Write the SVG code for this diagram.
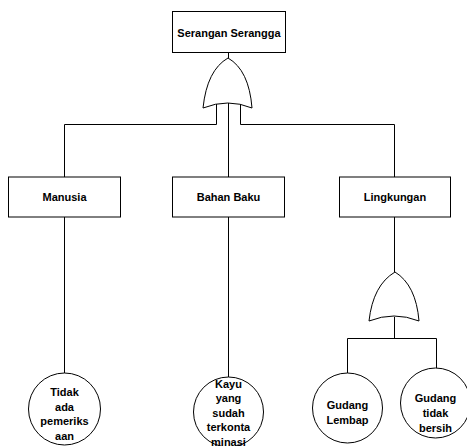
<svg xmlns="http://www.w3.org/2000/svg" width="467" height="446" viewBox="0 0 467 446">
  <style>
    .box { fill: #ffffff; stroke: #000000; stroke-width: 1; }
    .gate { fill: #ffffff; stroke: #000000; stroke-width: 1; }
    .wire { fill: none; stroke: #000000; stroke-width: 1; }
    .lbl { font-family: "Liberation Sans", Arial, sans-serif; font-weight: bold; font-size: 11px; fill: #000000; text-anchor: middle; }
  </style>
  <rect width="467" height="446" fill="#ffffff"/>

  <!-- connectors -->
  <g id="connectors" class="wire">
    <path d="M228.5,53 V58"/>
    <path d="M216.5,104 V124.5 H64.5 V177"/>
    <path d="M228.5,103 V177"/>
    <path d="M240.5,104 V124.5 H394.5 V177"/>
    <path d="M64.5,217 V373"/>
    <path d="M228.5,217 V377"/>
    <path d="M394.5,217 V272"/>
    <path d="M394.5,317 V338.5"/>
    <path d="M347.5,338.5 H436.5"/>
    <path d="M347.5,338.5 V373"/>
    <path d="M436.5,338.5 V368"/>
  </g>

  <!-- OR gates -->
  <g id="gate-top">
    <path class="gate" d="M228,58 Q207,70 203,108 Q228,98 252,108 Q249,70 228,58 Z"/>
  </g>
  <g id="gate-lingkungan">
    <path class="gate" d="M395,272 Q373,285 369,321 Q394,311 419,321 Q416,285 395,272 Z"/>
  </g>

  <!-- events -->
  <g id="serangan-serangga">
    <rect class="box" x="172.5" y="11.5" width="113" height="41"/>
    <text class="lbl" x="229" y="37">Serangan Serangga</text>
  </g>
  <g id="manusia">
    <rect class="box" x="8.5" y="177" width="112" height="40"/>
    <text class="lbl" x="64.5" y="201">Manusia</text>
  </g>
  <g id="bahan-baku">
    <rect class="box" x="172.5" y="177" width="112" height="40"/>
    <text class="lbl" x="228.5" y="201">Bahan Baku</text>
  </g>
  <g id="lingkungan">
    <rect class="box" x="339.5" y="177" width="111" height="40"/>
    <text class="lbl" x="395" y="201">Lingkungan</text>
  </g>

  <!-- basic events -->
  <g id="tidak-ada-pemeriksaan">
    <circle class="box" cx="64.5" cy="409" r="36"/>
    <text class="lbl" x="64.5" y="396">Tidak</text>
    <text class="lbl" x="64.5" y="410.5">ada</text>
    <text class="lbl" x="64.5" y="425">pemeriks</text>
    <text class="lbl" x="64.5" y="439.5">aan</text>
  </g>
  <g id="kayu-terkontaminasi">
    <circle class="box" cx="228.5" cy="412" r="35"/>
    <text class="lbl" x="228.5" y="387.5">Kayu</text>
    <text class="lbl" x="228.5" y="402">yang</text>
    <text class="lbl" x="228.5" y="416.5">sudah</text>
    <text class="lbl" x="228.5" y="431">terkonta</text>
    <text class="lbl" x="228.5" y="445.5">minasi</text>
  </g>
  <g id="gudang-lembap">
    <circle class="box" cx="347.5" cy="408" r="35"/>
    <text class="lbl" x="347.5" y="409">Gudang</text>
    <text class="lbl" x="347.5" y="423.5">Lembap</text>
  </g>
  <g id="gudang-tidak-bersih">
    <circle class="box" cx="435.5" cy="403" r="35"/>
    <text class="lbl" x="435.5" y="402">Gudang</text>
    <text class="lbl" x="435.5" y="417">tidak</text>
    <text class="lbl" x="435.5" y="432">bersih</text>
  </g>
</svg>
